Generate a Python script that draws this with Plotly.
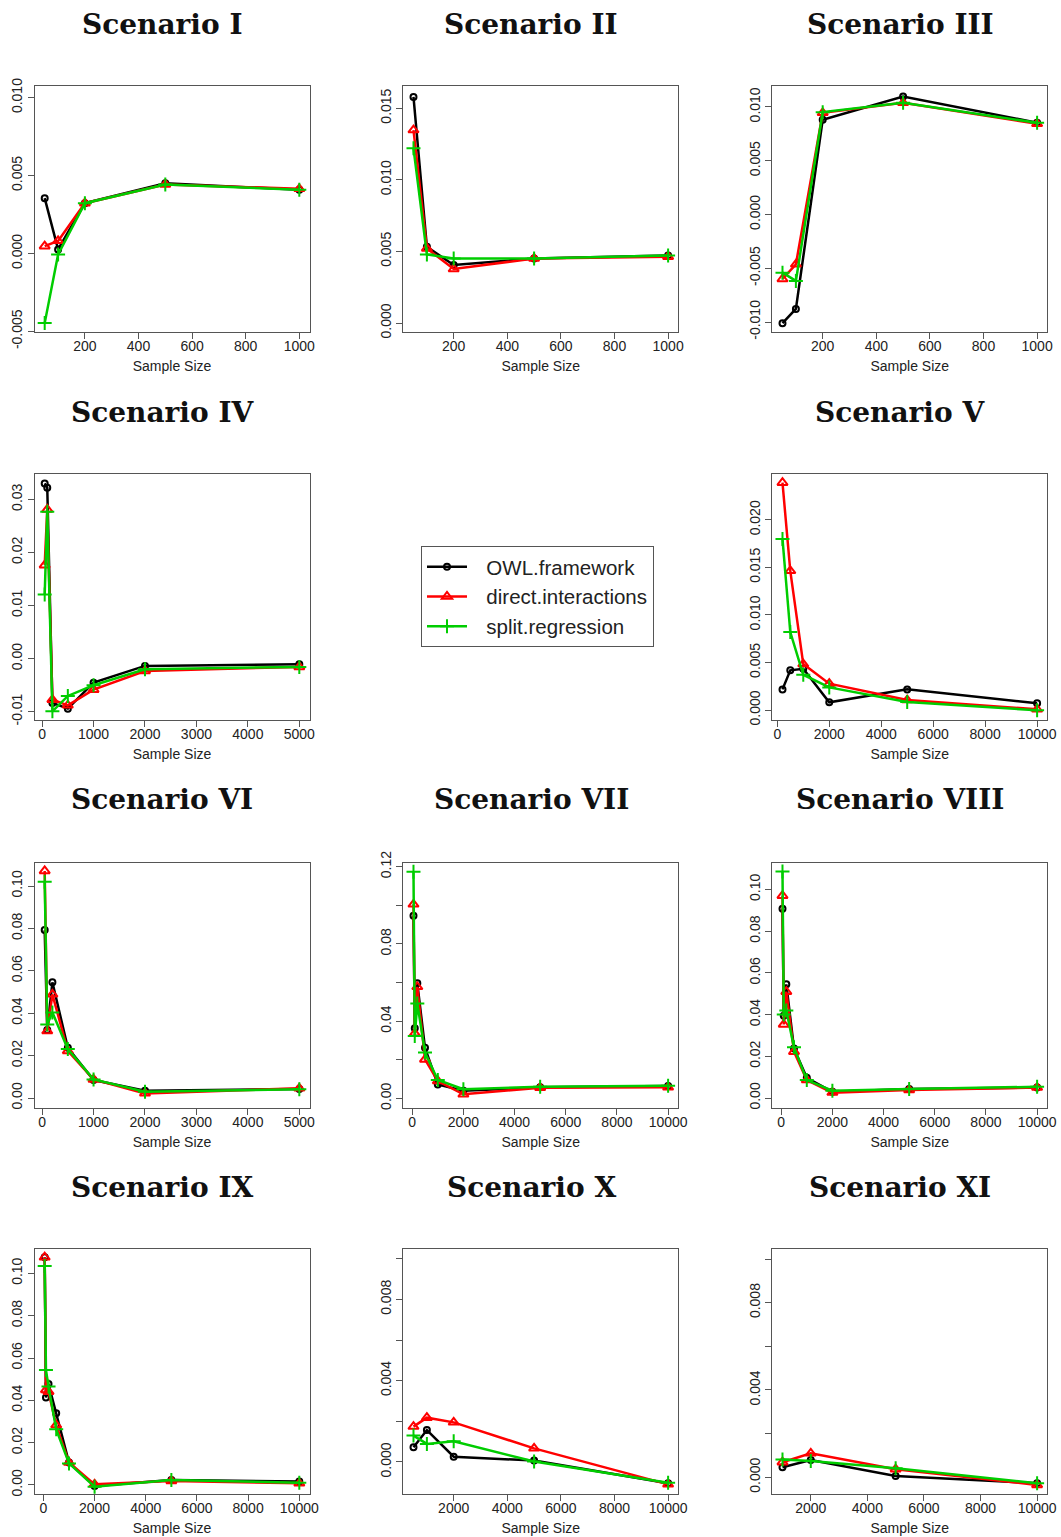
import plotly.graph_objects as go

# ---------------- data: bias by sample size, per scenario ----------------
methods = ["OWL.framework", "direct.interactions", "split.regression"]

n_I = [50, 100, 200, 500, 1000]
owl_I = [0.00355, 0.00026, 0.00323, 0.00451, 0.00409]
di_I = [0.00047, 0.00081, 0.00323, 0.00443, 0.00415]
sr_I = [-0.00447, -0.00006, 0.00323, 0.00443, 0.00409]

n_II = [50, 100, 200, 500, 1000]
owl_II = [0.01579, 0.00532, 0.00405, 0.00451, 0.00472]
di_II = [0.01347, 0.00521, 0.00377, 0.00451, 0.00463]
sr_II = [0.01220, 0.00479, 0.00451, 0.00451, 0.00472]

n_III = [50, 100, 200, 500, 1000]
owl_III = [-0.01011, -0.00878, 0.00881, 0.01097, 0.00853]
di_III = [-0.00600, -0.00464, 0.00946, 0.01039, 0.00844]
sr_III = [-0.00541, -0.00618, 0.00952, 0.01039, 0.00853]

n_IV = [50, 100, 200, 500, 1000, 2000, 5000]
owl_IV = [0.0330, 0.0322, -0.00836, -0.00943, -0.00453, -0.00138, -0.00107]
di_IV = [0.0176, 0.0281, -0.00774, -0.00880, -0.00585, -0.00233, -0.00157]
sr_IV = [0.01208, 0.02767, -0.00994, -0.00704, -0.00503, -0.00201, -0.00157]

n_V = [200, 500, 1000, 2000, 5000, 10000]
owl_V = [0.00217, 0.00417, 0.00434, 0.00081, 0.00217, 0.00070]
di_V = [0.02392, 0.01464, 0.00483, 0.00277, 0.00105, 0.00007]
sr_V = [0.01800, 0.00820, 0.00371, 0.00238, 0.00084, -0.00003]

n_VI = [50, 100, 200, 500, 1000, 2000, 5000]
owl_VI = [0.0792, 0.0321, 0.0546, 0.0237, 0.0085, 0.00346, 0.00425]
di_VI = [0.1071, 0.0316, 0.0489, 0.0222, 0.0088, 0.0022, 0.00456]
sr_VI = [0.1020, 0.0347, 0.0404, 0.0231, 0.0088, 0.0030, 0.0041]

n_VII = [50, 100, 200, 500, 1000, 2000, 5000, 10000]
owl_VII = [0.0946, 0.0363, 0.0596, 0.0262, 0.00725, 0.00397, 0.0057, 0.0064]
di_VII = [0.1005, 0.0337, 0.0578, 0.0202, 0.0090, 0.0021, 0.0055, 0.0057]
sr_VII = [0.1174, 0.0323, 0.0492, 0.0237, 0.0095, 0.0047, 0.0060, 0.0066]

n_VIII = [50, 100, 200, 500, 1000, 2000, 5000, 10000]
owl_VIII = [0.0907, 0.0395, 0.0545, 0.0238, 0.0097, 0.0030, 0.0043, 0.0051]
di_VIII = [0.0970, 0.0353, 0.0510, 0.0222, 0.0086, 0.0026, 0.0038, 0.0050]
sr_VIII = [0.1086, 0.0401, 0.0419, 0.0243, 0.0086, 0.0035, 0.0043, 0.0054]

n_IX = [50, 100, 200, 500, 1000, 2000, 5000, 10000]
owl_IX = [0.1076, 0.0413, 0.0477, 0.0339, 0.0106, -0.0005, 0.0024, 0.0016]
di_IX = [0.1076, 0.0449, 0.0441, 0.0283, 0.0106, 0.0003, 0.0019, 0.0008]
sr_IX = [0.1035, 0.0543, 0.0465, 0.0263, 0.0102, -0.0008, 0.0024, 0.0011]

n_X = [500, 1000, 2000, 5000, 10000]
owl_X = [0.00072, 0.00157, 0.00026, 0.00007, -0.00105]
di_X = [0.00174, 0.00218, 0.00195, 0.00067, -0.00110]
sr_X = [0.00130, 0.00089, 0.00102, 0.00002, -0.00102]

n_XI = [1000, 2000, 5000, 10000]
owl_XI = [0.00046, 0.00079, 0.00006, -0.00027]
di_XI = [0.00069, 0.00110, 0.00037, -0.00035]
sr_XI = [0.00082, 0.00075, 0.00041, -0.00027]

# tick values / labels
xt_1000 = [200, 400, 600, 800, 1000]
xt_5000 = [0, 1000, 2000, 3000, 4000, 5000]
xt_10000 = [0, 2000, 4000, 6000, 8000, 10000]
xt_10000b = [2000, 4000, 6000, 8000, 10000]

yt_I = [-0.005, 0.0, 0.005, 0.010]
yl_I = ["-0.005", "0.000", "0.005", "0.010"]
yt_II = [0.0, 0.005, 0.010, 0.015]
yl_II = ["0.000", "0.005", "0.010", "0.015"]
yt_III = [-0.010, -0.005, 0.0, 0.005, 0.010]
yl_III = ["-0.010", "-0.005", "0.000", "0.005", "0.010"]
yt_IV = [-0.01, 0.0, 0.01, 0.02, 0.03]
yl_IV = ["-0.01", "0.00", "0.01", "0.02", "0.03"]
yt_V = [0.0, 0.005, 0.010, 0.015, 0.020]
yl_V = ["0.000", "0.005", "0.010", "0.015", "0.020"]
yt_VI = [0.0, 0.02, 0.04, 0.06, 0.08, 0.10]
yl_VI = ["0.00", "0.02", "0.04", "0.06", "0.08", "0.10"]
yt_VII = [0.0, 0.02, 0.04, 0.06, 0.08, 0.10, 0.12]
yl_VII = ["0.00", "", "0.04", "", "0.08", "", "0.12"]
yt_VIII = [0.0, 0.02, 0.04, 0.06, 0.08, 0.10]
yl_VIII = ["0.00", "0.02", "0.04", "0.06", "0.08", "0.10"]
yt_IX = [0.0, 0.02, 0.04, 0.06, 0.08, 0.10]
yl_IX = ["0.00", "0.02", "0.04", "0.06", "0.08", "0.10"]
yt_X = [0.0, 0.002, 0.004, 0.006, 0.008, 0.010]
yl_X = ["0.000", "", "0.004", "", "0.008", ""]
yt_XI = [0.0, 0.002, 0.004, 0.006, 0.008, 0.010]
yl_XI = ["0.000", "", "0.004", "", "0.008", ""]

titles = ["Scenario I", "Scenario II", "Scenario III", "Scenario IV",
          "Scenario V", "Scenario VI", "Scenario VII", "Scenario VIII",
          "Scenario IX", "Scenario X", "Scenario XI"]

# ---------------- layout of the 4x3 grid (pixels) ----------------
W, H = 1061, 1537
COLS = [(34.5, 309.5), (403.3, 678.3), (772.3, 1047.3)]
ROWS = [(86.0, 332.0), (474.3, 719.7), (862.7, 1107.7), (1249.0, 1494.3)]
TITLE_X = [162, 531, 900]
TITLE_Y = [25, 412, 800, 1187]

panels = [
    # (row, col, n, owl, di, sr, xticks, yticks, ylabels, yrange)
    (0, 0, n_I, owl_I, di_I, sr_I, xt_1000, yt_I, yl_I, (-0.00504, 0.01075)),
    (0, 1, n_II, owl_II, di_II, sr_II, xt_1000, yt_II, yl_II, (-0.000625, 0.01655)),
    (0, 2, n_III, owl_III, di_III, sr_III, xt_1000, yt_III, yl_III, (-0.01093, 0.01195)),
    (1, 0, n_IV, owl_IV, di_IV, sr_IV, xt_5000, yt_IV, yl_IV, (-0.01151, 0.03472)),
    (1, 2, n_V, owl_V, di_V, sr_V, xt_10000, yt_V, yl_V, (-0.00102, 0.0248)),
    (2, 0, n_VI, owl_VI, di_VI, sr_VI, xt_5000, yt_VI, yl_VI, (-0.00456, 0.1110)),
    (2, 1, n_VII, owl_VII, di_VII, sr_VII, xt_10000, yt_VII, yl_VII, (-0.00483, 0.12207)),
    (2, 2, n_VIII, owl_VIII, di_VIII, sr_VIII, xt_10000, yt_VIII, yl_VIII, (-0.00463, 0.1128)),
    (3, 0, n_IX, owl_IX, di_IX, sr_IX, xt_10000, yt_IX, yl_IX, (-0.0044, 0.1115)),
    (3, 1, n_X, owl_X, di_X, sr_X, xt_10000b, yt_X, yl_X, (-0.00159, 0.01048)),
    (3, 2, n_XI, owl_XI, di_XI, sr_XI, xt_10000b, yt_XI, yl_XI, (-0.00078, 0.01046)),
]

COLORS = ["#000000", "#ff0000", "#00cd00"]
SYMBOLS = ["circle-open", "triangle-up-open", "cross-thin-open"]
MSIZE = [6, 9, 10]

SANS = "Liberation Sans, Arial, Helvetica, sans-serif"
AXCOL = "#555555"
TXT = "#222222"

fig = go.Figure()
layout = dict(
    width=W, height=H,
    margin=dict(l=0, r=0, t=0, b=0),
    paper_bgcolor="white", plot_bgcolor="white",
    showlegend=True,
    font=dict(family=SANS, size=14, color=TXT),
)
annotations = []

for k, (r, c, n, owl, di, sr, xt, yt, yl, yr) in enumerate(panels):
    idx = "" if k == 0 else str(k + 1)
    xa, ya = "x" + idx, "y" + idx
    x0, x1 = COLS[c]
    y0, y1 = ROWS[r]
    pad = 0.04 * (max(n) - min(n))
    layout["xaxis" + idx] = dict(
        domain=[x0 / W, x1 / W], anchor=ya, range=[min(n) - pad, max(n) + pad],
        tickmode="array", tickvals=xt, ticktext=[str(v) for v in xt],
        showgrid=False, zeroline=False, showline=True, mirror=True,
        linecolor=AXCOL, linewidth=1, ticks="outside", ticklen=6,
        tickcolor=AXCOL, tickfont=dict(size=14, color=TXT),
        ticklabelstandoff=-5,
        title=dict(text="Sample Size", font=dict(size=14, color=TXT), standoff=8),
        automargin=False,
    )
    layout["yaxis" + idx] = dict(
        domain=[1 - y1 / H, 1 - y0 / H], anchor=xa, range=list(yr),
        tickmode="array", tickvals=yt, ticktext=yl, tickangle=-90,
        showgrid=False, zeroline=False, showline=True, mirror=True,
        linecolor=AXCOL, linewidth=1, ticks="outside", ticklen=6,
        tickcolor=AXCOL, tickfont=dict(size=14, color=TXT),
        automargin=False,
    )
    for m, series in enumerate([owl, di, sr]):
        fig.add_trace(go.Scatter(
            x=n, y=series, xaxis=xa, yaxis=ya, mode="lines+markers",
            name="\u2002\u2009" + methods[m], legendgroup=methods[m],
            showlegend=(k == 0),
            line=dict(color=COLORS[m], width=2.5),
            marker=dict(symbol=SYMBOLS[m], size=MSIZE[m], color=COLORS[m],
                        line=dict(color=COLORS[m], width=2)),
            cliponaxis=False,
        ))
    annotations.append(dict(
        text="<b>%s</b>" % titles[k], xref="paper", yref="paper",
        x=TITLE_X[c] / W, y=1 - TITLE_Y[r] / H, xanchor="center", yanchor="middle",
        showarrow=False,
        font=dict(family="DejaVu Serif, serif", size=28, color="#111111"),
    ))

layout["annotations"] = annotations
layout["legend"] = dict(
    x=421 / W, y=1 - 546 / H, xanchor="left", yanchor="top",
    bordercolor="#555555", borderwidth=1, bgcolor="white",
    font=dict(family=SANS, size=20.5, color=TXT),
    itemwidth=40, tracegroupgap=0,
)
fig.update_layout(**layout)
fig.write_html("out.html")
